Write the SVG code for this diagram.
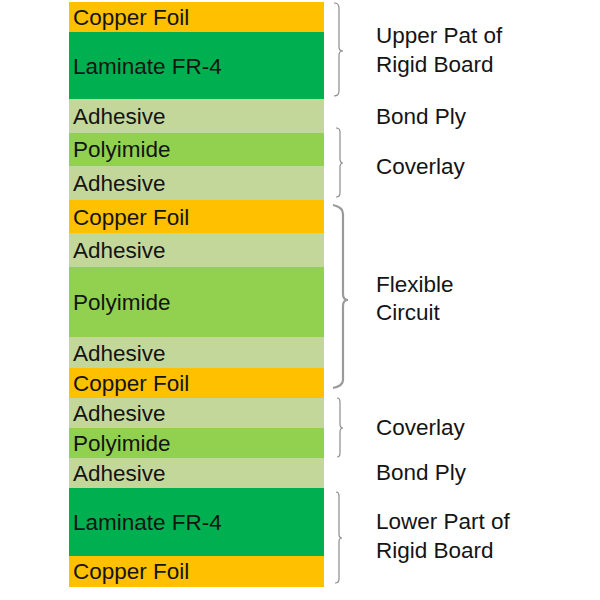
<svg xmlns="http://www.w3.org/2000/svg" width="600" height="600" viewBox="0 0 600 600">
<style>
.cu{fill:#FFC000}.lam{fill:#00B050}.adh{fill:#C4D79B}.pi{fill:#92D050}
text{font-family:"Liberation Sans",Arial,sans-serif;font-size:22.5px;fill:#141414}
.br{fill:none;stroke:#8c8c8c;stroke-width:1.2}
.brk{fill:none;stroke:#9a9a9a;stroke-width:2.2}
</style>
<rect width="600" height="600" fill="#fff"/>
<g id="layer1"><rect class="cu" x="69" y="2" width="255" height="30"/><text x="73" y="25">Copper Foil</text></g>
<g id="layer2"><rect class="lam" x="69" y="32" width="255" height="67"/><text x="73" y="74">Laminate FR-4</text></g>
<g id="layer3"><rect class="adh" x="69" y="99" width="255" height="34"/><text x="73" y="124">Adhesive</text></g>
<g id="layer4"><rect class="pi" x="69" y="133" width="255" height="33"/><text x="73" y="157">Polyimide</text></g>
<g id="layer5"><rect class="adh" x="69" y="166" width="255" height="34"/><text x="73" y="191">Adhesive</text></g>
<g id="layer6"><rect class="cu" x="69" y="200" width="255" height="33"/><text x="73" y="224.5">Copper Foil</text></g>
<g id="layer7"><rect class="adh" x="69" y="233" width="255" height="34"/><text x="73" y="258">Adhesive</text></g>
<g id="layer8"><rect class="pi" x="69" y="267" width="255" height="70"/><text x="73" y="310">Polyimide</text></g>
<g id="layer9"><rect class="adh" x="69" y="337" width="255" height="31"/><text x="73" y="360.5">Adhesive</text></g>
<g id="layer10"><rect class="cu" x="69" y="368" width="255" height="30"/><text x="73" y="391">Copper Foil</text></g>
<g id="layer11"><rect class="adh" x="69" y="398" width="255" height="30"/><text x="73" y="421">Adhesive</text></g>
<g id="layer12"><rect class="pi" x="69" y="428" width="255" height="30"/><text x="73" y="451">Polyimide</text></g>
<g id="layer13"><rect class="adh" x="69" y="458" width="255" height="30"/><text x="73" y="481">Adhesive</text></g>
<g id="layer14"><rect class="lam" x="69" y="488" width="255" height="68"/><text x="73" y="530">Laminate FR-4</text></g>
<g id="layer15"><rect class="cu" x="69" y="556" width="255" height="31"/><text x="73" y="579">Copper Foil</text></g>

<g id="connectors">
<path class="br" d="M334,3 Q339,3 339,8 L339,47 Q339,51 343,51 Q339,51 339,55 L339,91 Q339,96 334,96"/>
<path class="br" d="M336,128 Q340,128 340,132 L340,159 Q340,163 343,163 Q340,163 340,167 L340,193 Q340,197 336,197"/>
<path class="brk" d="M333,205 Q343,207 343,214 L343,294 Q343,300 348,300 Q343,300 343,306 L343,380 Q343,386 333,388"/>
<path class="br" d="M337,398 Q340,398 340,402 L340,424 Q340,428 343,428 Q340,428 340,432 L340,453 Q340,457 337,457"/>
<path class="br" d="M336,492 Q339,492 339,496 L339,534 Q339,538 342,538 Q339,538 339,542 L339,579 Q339,583 335,583"/>
</g>

<g id="labels">
<text x="376" y="43">Upper Pat of</text>
<text x="376" y="72">Rigid Board</text>
<text x="376" y="124">Bond Ply</text>
<text x="376" y="174">Coverlay</text>
<text x="376" y="292">Flexible</text>
<text x="376" y="320">Circuit</text>
<text x="376" y="435">Coverlay</text>
<text x="376" y="480">Bond Ply</text>
<text x="376" y="529">Lower Part of</text>
<text x="376" y="558">Rigid Board</text>
</g>
</svg>
